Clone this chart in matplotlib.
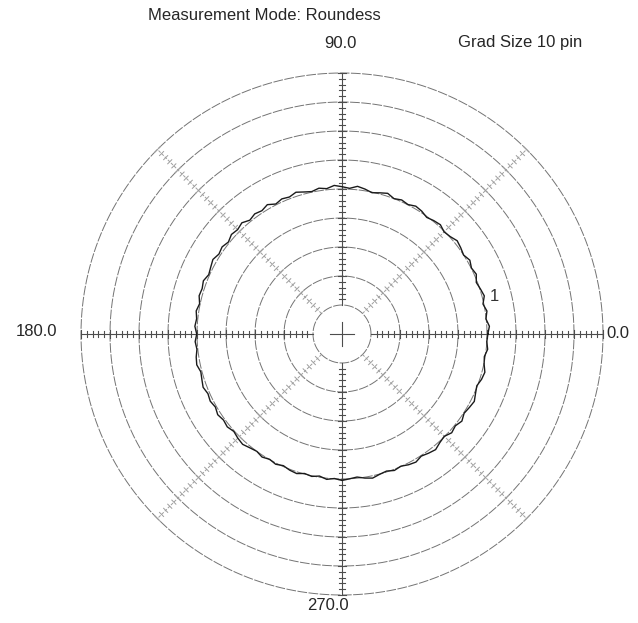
import numpy as np
import matplotlib.pyplot as plt

plt.rcParams['font.family'] = ['Liberation Sans', 'DejaVu Sans']

# grid: circles every 10 units ("Grad Size 10"), 9 rings
ring_r = [10, 20, 30, 40, 50, 60, 70, 80, 90]
axis_deg = [0, 90, 180, 270]
diag_deg = [45, 135, 225, 315]
axis_labels = ["0.0", "90.0", "180.0", "270.0"]

# measured roundness profile, one radius every 3 degrees
profile_deg = np.arange(0, 360, 3)
profile_r = [
    50.3, 50.9, 49.9, 50.6, 49.7, 50.8, 50.2, 49.6, 50.7, 50.1,
    50.9, 50.0, 50.6, 51.1, 50.2, 49.8, 50.7, 50.3, 49.7, 50.5,
    50.9, 50.1, 50.6, 50.0, 51.0, 50.4, 49.8, 50.6, 51.2, 50.3,
    50.8, 51.3, 50.4, 50.9, 50.2, 50.7, 51.4, 50.6, 51.0, 50.3,
    51.5, 50.7, 51.2, 50.5, 51.6, 50.9, 51.3, 50.4, 51.1, 50.6,
    51.4, 50.8, 50.3, 51.2, 50.7, 51.0, 50.2, 50.9, 50.4, 50.8,
    50.1, 50.7, 50.3, 50.9, 51.2, 50.4, 50.8, 51.3, 50.6, 51.0,
    50.4, 51.1, 50.5, 50.9, 50.2, 50.8, 51.2, 50.5, 50.0, 50.6,
    49.9, 50.4, 49.7, 50.3, 50.6, 49.8, 50.2, 49.6, 50.4, 49.9,
    50.5, 50.0, 49.6, 50.3, 50.8, 50.1, 49.7, 50.4, 49.9, 50.6,
    51.0, 50.2, 50.8, 51.3, 50.4, 49.9, 50.9, 50.3, 51.1, 50.2,
    50.7, 51.2, 50.4, 49.8, 50.6, 51.0, 50.1, 49.7, 50.5, 50.0,
]

W, H = 638, 623
fig = plt.figure(figsize=(W / 100, H / 100), dpi=100)
cx, cy, R = 342, 334, 261
ax = fig.add_axes([(cx - R) / W, (H - cy - R) / H, 2 * R / W, 2 * R / H],
                  projection='polar')
ax.set_ylim(0, ring_r[-1])
ax.set_xticks([])
ax.set_yticks([])
ax.grid(False)
ax.spines['polar'].set_visible(False)

full = np.linspace(0, 2 * np.pi, 721)
for r in ring_r:
    ax.plot(full, np.full_like(full, r), color='0.45', lw=0.7,
            dashes=(10, 1.5), clip_on=False)

def radial(deg, color, lw, tick_len, dashes=None):
    th = np.deg2rad(deg)
    line, = ax.plot([th, th], [ring_r[0], ring_r[-1]], color=color, lw=lw, clip_on=False)
    if dashes:
        line.set_dashes(dashes)
    for r in np.arange(ring_r[0] + 2, ring_r[-1] + 0.1, 2):
        half = tick_len * (1.4 if r % 10 == 0 else 1.0)
        d = half / r
        ax.plot([th - d, th + d], [r, r], color=color, lw=lw, clip_on=False)

for deg in axis_deg:
    radial(deg, '0.3', 0.8, 1.1)
for deg in diag_deg:
    radial(deg, '0.62', 0.7, 1.0, dashes=(3, 1.5))

# centre cross
for deg in axis_deg:
    th = np.deg2rad(deg)
    ax.plot([th, th], [0, 4], color='0.3', lw=0.8)

th_p = np.deg2rad(np.append(profile_deg, profile_deg[0]))
r_p = np.append(profile_r, profile_r[0])
ax.plot(th_p, r_p, color='0.1', lw=1.0)
ax.text(np.deg2rad(14), 54, "1", fontsize=12, color='0.2', ha='center', va='center')

def px(x, y):
    return x / W, 1 - y / H

fs = 12
fig.text(*px(264, 16), "Measurement Mode: Roundess", fontsize=fs, ha='center', va='center', color='0.15')
fig.text(*px(340, 43), axis_labels[1], fontsize=fs, ha='center', va='center', color='0.15')
fig.text(*px(520, 43), "Grad Size 10 pin", fontsize=fs, ha='center', va='center', color='0.15')
fig.text(*px(57, 331), axis_labels[2], fontsize=fs, ha='right', va='center', color='0.15')
fig.text(*px(606, 333), axis_labels[0], fontsize=fs, ha='left', va='center', color='0.15')
fig.text(*px(328, 605), axis_labels[3], fontsize=fs, ha='center', va='center', color='0.15')

fig.savefig('out.png', dpi=100)
